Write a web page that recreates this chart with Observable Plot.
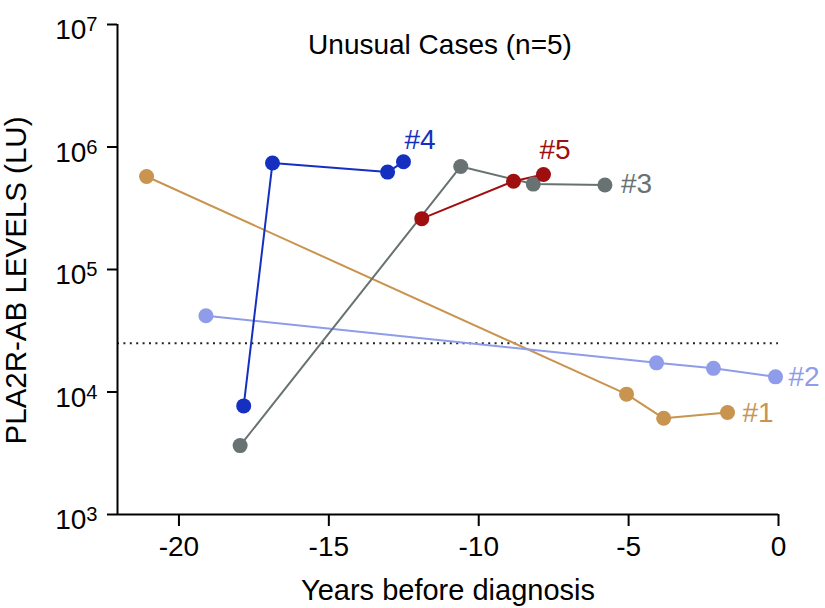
<!DOCTYPE html>
<html>
<head>
<meta charset="utf-8">
<script src="https://cdn.jsdelivr.net/npm/d3@7"></script>
<script src="https://cdn.jsdelivr.net/npm/@observablehq/plot@0.6"></script>
<style>
  html, body { margin: 0; padding: 0; background: #fff; }
  #chart { width: 825px; height: 608px; }
  svg { font-family: "Liberation Sans", Arial, Helvetica, sans-serif; }
</style>
</head>
<body>
<div id="chart"></div>
<script>
// ---- data ----
const caseNames = ["#1", "#2", "#3", "#4", "#5"];
const caseColors = ["#c8944f", "#8e9ce9", "#687272", "#1530c0", "#a00f10"];

const case1Years = [-21.08, -5.07, -3.83, -1.70];
const case1Levels = [5.74e5, 9.6e3, 6.1e3, 6.8e3];

const case2Years = [-19.10, -4.07, -2.17, -0.10];
const case2Levels = [4.19e4, 1.73e4, 1.56e4, 1.33e4];

const case3Years = [-17.96, -10.60, -8.18, -5.79];
const case3Levels = [3.65e3, 6.94e5, 4.98e5, 4.89e5];

const case4Years = [-17.84, -16.88, -13.04, -12.51];
const case4Levels = [7.7e3, 7.4e5, 6.24e5, 7.57e5];

const case5Years = [-11.90, -8.84, -7.84];
const case5Levels = [2.6e5, 5.26e5, 5.96e5];

const thresholdLevel = [2.5e4];
const xDomain = [-22.05, 0];
const xTicks = [-20, -15, -10, -5, 0];
const yDomain = [1e3, 1e7];
const yTicks = [1e3, 1e4, 1e5, 1e6, 1e7];

const titleText = "Unusual Cases (n=5)";
const xLabel = "Years before diagnosis";
const yLabel = "PLA2R-AB LEVELS (LU)";

// ---- build table ----
const allYears = [case1Years, case2Years, case3Years, case4Years, case5Years];
const allLevels = [case1Levels, case2Levels, case3Levels, case4Levels, case5Levels];
const rows = [];
allYears.forEach((ys, i) => ys.forEach((yr, j) => rows.push({case: caseNames[i], year: yr, level: allLevels[i][j]})));
const lastPoints = caseNames.map((c, i) => ({case: c, year: allYears[i].at(-1), level: allLevels[i].at(-1)}));

// label offsets (style only)
const labelDx = {"#1": 15, "#2": 13, "#3": 16, "#4": 1, "#5": -4};
const labelDy = {"#1": 1, "#2": 0, "#3": -1, "#4": -22, "#5": -25};

const color = {domain: caseNames, range: caseColors};
const FS = 28;

const marks = [
  Plot.ruleY(thresholdLevel, {stroke: "#222", strokeWidth: 2, strokeDasharray: "2,4.4"}),
  Plot.line(rows, {x: "year", y: "level", z: "case", stroke: "case", strokeWidth: 2}),
  Plot.dot(rows, {x: "year", y: "level", fill: "case", r: 7.5, stroke: "none"}),
  ...caseNames.map(c => Plot.text(lastPoints.filter(d => d.case === c), {
    x: "year", y: "level", text: "case", fill: "case",
    textAnchor: "start", dx: labelDx[c], dy: labelDy[c], fontSize: FS
  })),
  Plot.ruleX([xDomain[0]], {stroke: "#000", strokeWidth: 2}),
  Plot.ruleY([yDomain[0]], {stroke: "#000", strokeWidth: 2}),
  Plot.axisX({ticks: xTicks, tickSize: 12, tickPadding: 10, fontSize: FS, label: null, tickFormat: d => d === 0 ? "0" : String(d).replace("−", "-"), strokeWidth: 2}),
  Plot.axisY({ticks: yTicks, tickSize: 10, tickPadding: 10, fontSize: FS, label: null, tickFormat: d => String(Math.round(Math.log10(d))), strokeWidth: 2}),
  Plot.text([titleText], {frameAnchor: "top", textAnchor: "middle", dx: -8, dy: 21, fontSize: FS, fill: "#000", lineAnchor: "middle"}),
  Plot.text([xLabel], {frameAnchor: "bottom", textAnchor: "middle", dy: 76, fontSize: 29, fill: "#000", lineAnchor: "middle"}),
  Plot.text([yLabel], {frameAnchor: "left", textAnchor: "middle", dx: -92, dy: 11, rotate: -90, fontSize: 29.5, fill: "#000", lineAnchor: "bottom"})
];

const chart = Plot.plot({
  width: 825,
  height: 608,
  marginLeft: 117,
  marginRight: 47,
  marginTop: 24,
  marginBottom: 94,
  style: {fontFamily: '"Liberation Sans", Arial, Helvetica, sans-serif', background: "#fff", color: "#000", overflow: "visible"},
  x: {domain: xDomain},
  y: {type: "log", domain: yDomain},
  color,
  marks
});

// superscript exponents on y tick labels (10^n)
d3.select(chart).selectAll('g[aria-label="y-axis tick label"] text').each(function() {
  const exp = this.textContent;
  const t = d3.select(this);
  t.text("");
  t.append("tspan").attr("dy", "6").text("10");
  t.append("tspan").attr("dy", "-8").attr("font-size", "0.72em").text(exp);
});

document.getElementById("chart").appendChild(chart);
</script>
</body>
</html>
